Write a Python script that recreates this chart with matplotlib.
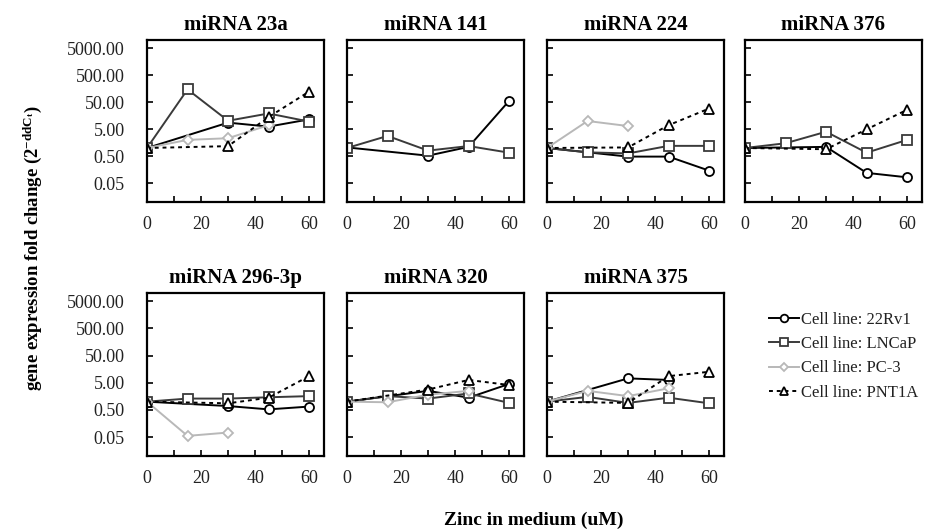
import numpy as np
import matplotlib
matplotlib.use('Agg')
import matplotlib.pyplot as plt
from matplotlib.ticker import FixedLocator, FixedFormatter
from matplotlib.lines import Line2D

plt.rcParams['font.family'] = ['Liberation Serif', 'DejaVu Serif']
plt.rcParams['mathtext.fontset'] = 'custom'
plt.rcParams['mathtext.rm'] = 'Liberation Serif:bold'
plt.rcParams['mathtext.it'] = 'Liberation Serif:bold'

panels = ['miRNA 23a', 'miRNA 141', 'miRNA 224', 'miRNA 376',
          'miRNA 296-3p', 'miRNA 320', 'miRNA 375']

# (x, fold change) per panel
rv1 = {
    'miRNA 23a':    ([0, 30, 45, 60], [1.0, 8.7, 6.2, 11.5]),
    'miRNA 141':    ([0, 30, 45, 60], [1.05, 0.52, 1.1, 56]),
    'miRNA 224':    ([0, 30, 45, 60], [1.0, 0.48, 0.48, 0.145]),
    'miRNA 376':    ([0, 30, 45, 60], [1.0, 1.1, 0.12, 0.082]),
    'miRNA 296-3p': ([0, 30, 45, 60], [1.0, 0.69, 0.52, 0.66]),
    'miRNA 320':    ([0, 30, 45, 60], [1.0, 2.5, 1.4, 4.5]),
    'miRNA 375':    ([0, 30, 45], [1.0, 7.2, 6.3]),
}
lncap = {
    'miRNA 23a':    ([0, 15, 30, 45, 60], [1.0, 148, 10.2, 19, 9.5]),
    'miRNA 141':    ([0, 15, 30, 45, 60], [1.0, 2.8, 0.8, 1.18, 0.67]),
    'miRNA 224':    ([0, 15, 30, 45, 60], [1.0, 0.69, 0.63, 1.2, 1.2]),
    'miRNA 376':    ([0, 15, 30, 45, 60], [1.0, 1.5, 4.0, 0.67, 2.0]),
    'miRNA 296-3p': ([0, 15, 30, 45, 60], [1.0, 1.3, 1.3, 1.45, 1.6]),
    'miRNA 320':    ([0, 15, 30, 45, 60], [1.0, 1.6, 1.3, 2.0, 0.9]),
    'miRNA 375':    ([0, 15, 30, 45, 60], [1.0, 1.5, 0.9, 1.4, 0.87]),
}
pc3 = {
    'miRNA 23a':    ([0, 15, 30, 45], [1.0, 2.0, 2.3, 7.0]),
    'miRNA 224':    ([0, 15, 30], [1.0, 10, 6.5]),
    'miRNA 296-3p': ([0, 15, 30], [1.0, 0.055, 0.073]),
    'miRNA 320':    ([0, 15, 30, 45], [1.0, 0.95, 1.8, 2.5]),
    'miRNA 375':    ([0, 15, 30, 45], [1.0, 2.5, 1.6, 3.1]),
}
pnt1a = {
    'miRNA 23a':    ([0, 30, 45, 60], [1.0, 1.17, 14, 123]),
    'miRNA 224':    ([0, 30, 45, 60], [1.0, 1.05, 7.0, 29]),
    'miRNA 376':    ([0, 30, 45, 60], [1.0, 0.9, 4.9, 26]),
    'miRNA 296-3p': ([0, 30, 45, 60], [1.0, 0.87, 1.4, 8.7]),
    'miRNA 320':    ([0, 30, 45, 60], [1.0, 2.8, 6.3, 4.1]),
    'miRNA 375':    ([0, 30, 45, 60], [1.0, 0.9, 8.7, 12.6]),
}

series = [
    ('Cell line: 22Rv1', rv1, dict(color='black', marker='o', ls='-', ms=6.5)),
    ('Cell line: LNCaP', lncap, dict(color='#3a3a3a', marker='s', ls='-', ms=6.5)),
    ('Cell line: PC-3', pc3, dict(color='#b8b8b8', marker='D', ls='-', ms=5)),
    ('Cell line: PNT1A', pnt1a, dict(color='black', marker='^', ls=(0, (2, 2)), ms=6.5)),
]

ytick_vals = [0.05, 0.5, 5, 50, 500, 5000]
ytick_labels = ['0.05', '0.50', '5.00', '50.00', '500.00', '5000.00']

fig = plt.figure(figsize=(9.29, 5.30), dpi=100)
W, H = 929, 530
lefts = [147, 347, 547, 745]
width = 177
rows = [(40, 202), (293, 456)]

for i, name in enumerate(panels):
    r, c = divmod(i, 4)
    top, bot = rows[r]
    ax = fig.add_axes([lefts[c] / W, 1 - bot / H, width / W, (bot - top) / H])
    for label, data, st in series:
        if name not in data:
            continue
        xs, ys = data[name]
        ax.plot(xs, ys, color=st['color'], ls=st['ls'], lw=1.4,
                marker=st['marker'], ms=st['ms'], mfc='white',
                mec=st['color'], mew=1.3, label=label)
    ax.set_yscale('log')
    ax.set_ylim(0.01, 10000)
    ax.set_xlim(0, 65.5)
    ax.yaxis.set_major_locator(FixedLocator(ytick_vals))
    ax.yaxis.set_minor_locator(FixedLocator([]))
    if c == 0:
        ax.yaxis.set_major_formatter(FixedFormatter(ytick_labels))
    else:
        ax.set_yticklabels([])
    ax.set_xticks(np.arange(0, 61, 10))
    ax.set_xticklabels(['0', '', '20', '', '40', '', '60'])
    ax.tick_params(axis='both', direction='in', length=4, width=1.2,
                   labelsize=13, colors='black', labelcolor='#222222')
    ax.tick_params(axis='x', pad=10)
    ax.tick_params(axis='y', pad=16)
    for sp in ax.spines.values():
        sp.set_linewidth(1.6)
    ax.set_title(name, fontsize=15, fontweight='bold', pad=7)

# legend handles built from the series styles
handles = []
for label, data, st in series:
    handles.append(Line2D([], [], color=st['color'], ls=st['ls'], lw=1.4,
                          marker=st['marker'], ms=st['ms'] - 1, mfc='white',
                          mec=st['color'], mew=1.3, label=label))
fig.legend(handles=handles, loc='upper left', bbox_to_anchor=(762 / W, 1 - 305 / H),
           frameon=False, fontsize=12, handlelength=1.8, handletextpad=0.15,
           labelspacing=0.5, borderaxespad=0, labelcolor='#222222')

fig.text(534 / W, 1 - 520 / H, 'Zinc in medium (uM)', ha='center', va='center',
         fontsize=14, fontweight='bold')
fig.text(33 / W, 1 - 248 / H, r'gene expression fold change (2$^{\mathrm{-ddC_t}}$)',
         rotation=90, ha='center', va='center', fontsize=13.5, fontweight='bold')

fig.savefig('out.png', dpi=100)
